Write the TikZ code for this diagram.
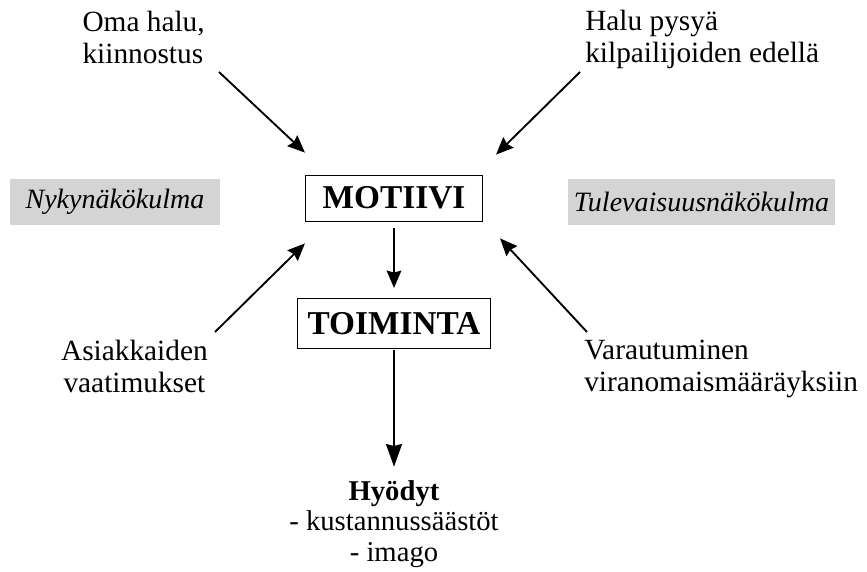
\documentclass[tikz,border=0pt]{standalone}
\usepackage{fontspec}
\setmainfont{Liberation Serif}
\usetikzlibrary{positioning, arrows.meta}
\definecolor{harmaa}{RGB}{212,212,212}
\tikzstyle{arrow} = [line width=1.4pt,-{Stealth[length=13pt,width=11pt,inset=1.5pt]}]
\tikzstyle{laatikko} = [draw, line width=0.6pt, inner xsep=4pt, font=\fontsize{25}{30}\selectfont\bfseries]
\tikzstyle{nakokulma} = [fill=harmaa, minimum height=35pt, font=\fontsize{21}{23}\selectfont\itshape]

\begin{document}
\begin{tikzpicture}[x=0.75pt, y=-0.75pt, inner sep=0pt, font=\fontsize{22}{24}\selectfont]
        \useasboundingbox (0,0) rectangle (867,571);

        % Motiivi ja toiminta
        \node[laatikko, minimum width=133pt, minimum height=34.5pt] (motiivi) at (394,198) {MOTIIVI};
        \node[laatikko, below of=motiivi, node distance=94pt, minimum width=145pt, minimum height=37.5pt] (toiminta) {TOIMINTA};

        % Hyodyt
        \node[align=center, font=\fontsize{21.5}{23}\selectfont] (hyodyt) at (394,524) {\textbf{Hyödyt}\\- kustannussäästöt\\- imago};

        % Nakokulmat
        \node[nakokulma, minimum width=157.5pt] (nyky) at (115,202) {Nykynäkökulma};
        \node[nakokulma, minimum width=200pt] (tule) at (701.5,202) {Tulevaisuusnäkökulma};

        % Tekijat
        \node[align=left, anchor=south east] (oma) at (205,64) {Oma halu,\\kiinnostus};
        \node[align=left, anchor=south west] (halu) at (585,69.5) {Halu pysyä\\kilpailijoiden edellä};
        \node[align=center, anchor=north east] (asiak) at (208,340) {Asiakkaiden\\vaatimukset};
        \node[align=left, anchor=north west] (varau) at (584,340) {Varautuminen\\viranomaismääräyksiin};

        % Nuolet
        \draw[arrow] ([shift={(14,8)}]oma.south east) -- ([shift={(0,-22)}]motiivi.north west);
        \draw[arrow] ([shift={(-5,2.5)}]halu.south west) -- ([shift={(13,-20)}]motiivi.north east);
        \draw[arrow] ([shift={(7,-8)}]asiak.north east) -- ([shift={(0,22)}]motiivi.south west);
        \draw[arrow] ([shift={(3,-8)}]varau.north west) -- ([shift={(17,17)}]motiivi.south east);
        \draw[arrow, shorten <=5pt, shorten >=7.5pt] (motiivi) -- (toiminta);
        \draw[arrow, -{Stealth[length=17pt,width=12pt,inset=1.5pt]}, shorten <=1pt, shorten >=10pt] (toiminta) -- (hyodyt);

\end{tikzpicture}
\end{document}
